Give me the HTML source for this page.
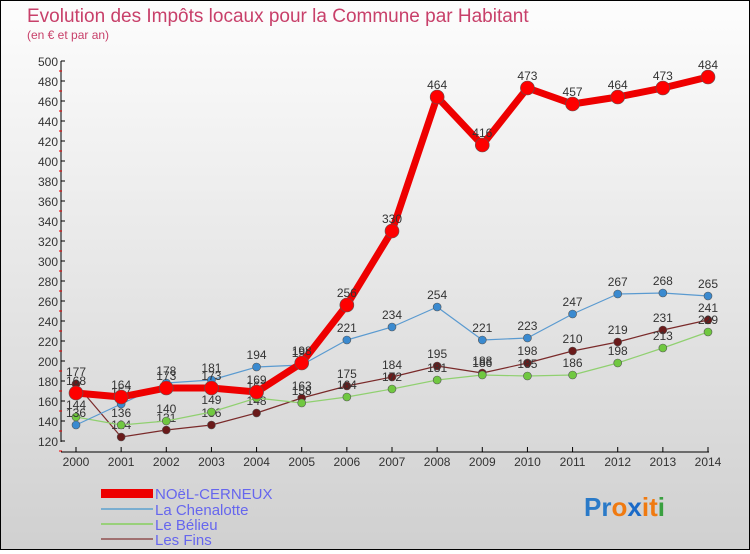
<!DOCTYPE html>
<html><head><meta charset="utf-8"><style>
body{margin:0;width:750px;height:550px;overflow:hidden;font-family:"Liberation Sans",sans-serif}
#wrap{position:relative;width:748px;height:548px;border:1px solid #000;background:linear-gradient(#fdfdfd,#d0d0d0)}
</style></head><body>
<div id="wrap">
<svg id="c" width="748" height="548" xmlns="http://www.w3.org/2000/svg">
<text x="26" y="21" font-size="19" fill="#c8406a">Evolution des Impôts locaux pour la Commune par Habitant</text>
<text x="26" y="38" font-size="12" fill="#c8406a">(en € et par an)</text>
<g id="axes"></g><g id="series"></g>
<g>
<rect x="100" y="488" width="52" height="9" fill="#e00"/>
<text x="154" y="498" font-size="15" fill="#6666ee">NOëL-CERNEUX</text>
<rect x="100" y="507" width="52" height="2" fill="#7aaed0"/>
<text x="154" y="514" font-size="15" fill="#6666ee">La Chenalotte</text>
<rect x="100" y="522" width="52" height="2" fill="#99d07a"/>
<text x="154" y="529" font-size="15" fill="#6666ee">Le Bélieu</text>
<rect x="100" y="537" width="52" height="2" fill="#a07070"/>
<text x="154" y="544" font-size="15" fill="#6666ee">Les Fins</text>
</g>
<text x="583" y="515" font-size="26" font-weight="bold"><tspan fill="#2a7ac8">Pr</tspan><tspan fill="#f07a10">o</tspan><tspan fill="#1a6ac8">x</tspan><tspan fill="#f07a10">i</tspan><tspan fill="#f07a10">t</tspan><tspan fill="#3aa040">i</tspan></text>
</svg></div>
<script>
const years=[2000,2001,2002,2003,2004,2005,2006,2007,2008,2009,2010,2011,2012,2013,2014];
const yTicks=[120,140,160,180,200,220,240,260,280,300,320,340,360,380,400,420,440,460,480,500];
const noel=[168,164,173,173,169,198,256,330,464,416,473,457,464,473,484];
const chenalotte=[136,157,178,181,194,196,221,234,254,221,223,247,267,268,265];
const belieu=[144,136,140,149,163,158,164,172,181,186,185,186,198,213,229];
const fins=[177,124,131,136,148,163,175,184,195,188,198,210,219,231,241];
const NS="http://www.w3.org/2000/svg";
const x=i=>75+i*(707-75)/(years.length-1);
const y=v=>440-(v-120)*(380/380);
function mk(tag,attrs,parent){const e=document.createElementNS(NS,tag);for(const k in attrs)e.setAttribute(k,attrs[k]);parent.appendChild(e);return e;}
const ax=document.getElementById('axes');
const yl=mk('line',{x1:60,y1:60,x2:60,y2:441,stroke:'#000'},ax);


yTicks.forEach(t=>{
 const l=mk('line',{x1:60,y1:y(t),x2:64,y2:y(t),stroke:'#000'},ax);
 
 
 const r=mk('line',{x1:58,y1:y(t)+10,x2:61,y2:y(t)+10,stroke:'#e00'},ax);
 
 
 const tx=mk('text',{x:57,y:y(t)+5,'font-size':12,'text-anchor':'end',fill:'#333'},ax);
 tx.textContent=t;
 
 
});
const xl=mk('line',{x1:60,y1:451,x2:708,y2:451,stroke:'#000'},ax);


years.forEach((yr,i)=>{
 const l=mk('line',{x1:x(i),y1:446,x2:x(i),y2:451,stroke:'#000'},ax);
 
 
 const tx=mk('text',{x:x(i),y:465,'font-size':12,'text-anchor':'middle',fill:'#333'},ax);
 tx.textContent=yr;
 
 
});
const sg=document.getElementById('series');
function draw(data,name,color,w,rad,dot){
 const pts=data.map((v,i)=>x(i)+','+y(v)).join(' ');
 const pl=mk('polyline',{points:pts,fill:'none',stroke:color,'stroke-width':w,'stroke-linejoin':'round'},sg);
 
 
 data.forEach((v,i)=>{
  const c=mk('circle',{cx:x(i),cy:y(v),r:rad,fill:dot,stroke:'#555','stroke-width':0.6},sg);
  
  
  const t=mk('text',{x:x(i),y:y(v)-8,'font-size':12,'text-anchor':'middle',fill:'#333'},sg);
  t.textContent=v;
  
  
 });
}
draw(fins,'fins','#7a2a2a',1.2,4,'#6a1a1a');
draw(belieu,'belieu','#90d070',1.2,4,'#70c840');
draw(chenalotte,'chenalotte','#5a9ad0',1.2,4,'#3a8ad0');
draw(noel,'noel','#ee0000',7,7,'#ff0000');
</script>
</body></html>
